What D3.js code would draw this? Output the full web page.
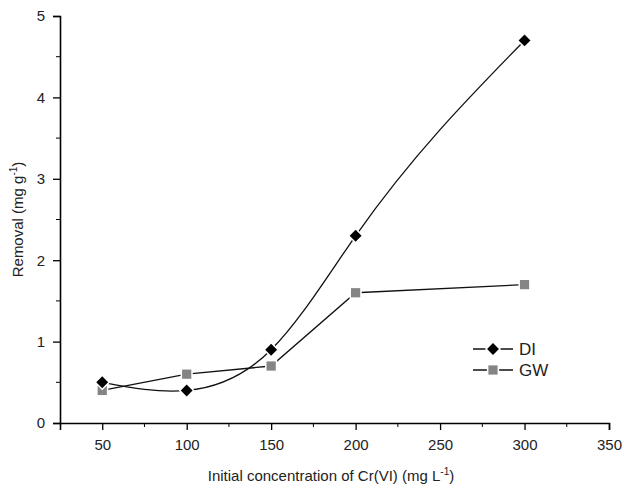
<html>
<head>
  <title>Removal chart</title>
  <script src="https://cdnjs.cloudflare.com/ajax/libs/d3/7.8.5/d3.min.js"></script>
  <style>
    body { margin: 0; background: #fff; }
    text { font-family: "Liberation Sans", Arial, sans-serif; }
  </style>
</head>
<body>
<script type="text/javascript">
  // data
  var conc = [50, 100, 150, 200, 300];
  var diValues = [0.5, 0.4, 0.9, 2.3, 4.7];
  var gwValues = [0.4, 0.6, 0.7, 1.6, 1.7];
  var xTicks = [50, 100, 150, 200, 250, 300, 350];
  var yTicks = [0, 1, 2, 3, 4, 5];

  var width = 624, height = 488;
  var plotLeft = 60, plotRight = 609, plotTop = 16, plotBottom = 423;

  var svg = d3.select("body").append("svg")
    .attr("width", width)
    .attr("height", height);

  var x = d3.scaleLinear().domain([25, 350]).range([plotLeft, plotRight]);
  var y = d3.scaleLinear().domain([0, 5]).range([plotBottom, plotTop]);

  // natural cubic spline y(x), drawn as bezier pieces (like Origin's spline)
  function splineCurve(context) {
    var pts;
    return {
      lineStart: function () { pts = []; },
      point: function (px, py) { pts.push([+px, +py]); },
      areaStart: function () {}, areaEnd: function () {},
      lineEnd: function () {
        var n = pts.length - 1, h = [], M = [], i;
        if (n < 1) return;
        for (i = 0; i < n; i++) h[i] = pts[i + 1][0] - pts[i][0];
        // tridiagonal solve for second derivatives, M[0] = M[n] = 0
        var a = [], b = [], c = [], r = [];
        for (i = 1; i < n; i++) {
          a[i] = h[i - 1]; b[i] = 2 * (h[i - 1] + h[i]); c[i] = h[i];
          r[i] = 6 * ((pts[i + 1][1] - pts[i][1]) / h[i] - (pts[i][1] - pts[i - 1][1]) / h[i - 1]);
        }
        for (i = 2; i < n; i++) {
          var w = a[i] / b[i - 1];
          b[i] -= w * c[i - 1];
          r[i] -= w * r[i - 1];
        }
        M[0] = 0; M[n] = 0;
        for (i = n - 1; i >= 1; i--) M[i] = (r[i] - (i < n - 1 ? c[i] * M[i + 1] : 0)) / b[i];
        context.moveTo(pts[0][0], pts[0][1]);
        for (i = 0; i < n; i++) {
          var s = (pts[i + 1][1] - pts[i][1]) / h[i];
          var m0 = s - h[i] * (2 * M[i] + M[i + 1]) / 6;
          var m1 = s + h[i] * (M[i] + 2 * M[i + 1]) / 6;
          context.bezierCurveTo(
            pts[i][0] + h[i] / 3, pts[i][1] + m0 * h[i] / 3,
            pts[i + 1][0] - h[i] / 3, pts[i + 1][1] - m1 * h[i] / 3,
            pts[i + 1][0], pts[i + 1][1]);
        }
      }
    };
  }

  // axes with minor ticks
  var xMinor = d3.range(75, 350, 50);
  var yMinor = d3.range(0.5, 5, 1);

  var gx = svg.append("g").attr("transform", "translate(0," + plotBottom + ")");
  gx.call(d3.axisBottom(x).tickValues(xTicks).tickSizeOuter(0).tickSize(7).tickPadding(9));
  gx.selectAll(".minor").data(xMinor).enter().append("line")
    .attr("x1", function (d) { return x(d); })
    .attr("x2", function (d) { return x(d); })
    .attr("y1", 0).attr("y2", 4)
    .attr("stroke", "#000");

  var gy = svg.append("g").attr("transform", "translate(" + plotLeft + ",0)");
  gy.call(d3.axisLeft(y).tickValues(yTicks).tickFormat(d3.format("d"))
    .tickSizeOuter(0).tickSize(7).tickPadding(8));
  gy.selectAll(".minor").data(yMinor).enter().append("line")
    .attr("y1", function (d) { return y(d); })
    .attr("y2", function (d) { return y(d); })
    .attr("x1", 0).attr("x2", -4)
    .attr("stroke", "#000");

  svg.selectAll(".domain").attr("stroke-width", 1.6);
  svg.selectAll(".tick line").attr("stroke-width", 1.3);
  svg.selectAll(".tick text").attr("font-size", 15).attr("fill", "#222")
    .attr("font-family", "'Liberation Sans', Arial, sans-serif");

  // axis titles
  var xt = svg.append("text")
    .attr("x", 331)
    .attr("y", 481)
    .attr("text-anchor", "middle")
    .attr("font-size", 15)
    .attr("fill", "#222");
  xt.append("tspan").text("Initial concentration of Cr(VI) (mg L");
  xt.append("tspan").attr("font-size", 10).attr("dy", -6).text("-1");
  xt.append("tspan").attr("dy", 6).text(")");

  var yt = svg.append("text")
    .attr("transform", "translate(23," + ((plotTop + plotBottom) / 2) + ") rotate(-90)")
    .attr("text-anchor", "middle")
    .attr("font-size", 15)
    .attr("fill", "#222");
  yt.append("tspan").text("Removal (mg g");
  yt.append("tspan").attr("font-size", 10).attr("dy", -6).text("-1");
  yt.append("tspan").attr("dy", 6).text(")");

  // lines
  var diData = conc.map(function (c, i) { return [c, diValues[i]]; });
  var gwData = conc.map(function (c, i) { return [c, gwValues[i]]; });

  var curveLine = d3.line()
    .x(function (d) { return x(d[0]); })
    .y(function (d) { return y(d[1]); })
    .curve(splineCurve);
  var straightLine = d3.line()
    .x(function (d) { return x(d[0]); })
    .y(function (d) { return y(d[1]); });

  svg.append("path").attr("d", curveLine(diData))
    .attr("fill", "none").attr("stroke", "#111").attr("stroke-width", 1.3);
  svg.append("path").attr("d", straightLine(gwData))
    .attr("fill", "none").attr("stroke", "#111").attr("stroke-width", 1.3);

  // markers (white outline gives the gap around each point)
  var diamond = d3.symbol().type(d3.symbolDiamond2).size(90);
  var square = d3.symbol().type(d3.symbolSquare).size(85);

  svg.selectAll(".gw").data(gwData).enter().append("path")
    .attr("d", square)
    .attr("transform", function (d) { return "translate(" + x(d[0]) + "," + y(d[1]) + ")"; })
    .attr("fill", "#858585").attr("stroke", "#fff").attr("stroke-width", 3).attr("paint-order", "stroke");

  svg.selectAll(".di").data(diData).enter().append("path")
    .attr("d", diamond)
    .attr("transform", function (d) { return "translate(" + x(d[0]) + "," + y(d[1]) + ")"; })
    .attr("fill", "#000").attr("stroke", "#fff").attr("stroke-width", 3).attr("paint-order", "stroke");

  // legend
  var legend = [
    { name: "DI", sym: diamond, fill: "#000", y: 349 },
    { name: "GW", sym: square, fill: "#858585", y: 370 }
  ];
  var lg = svg.append("g");
  legend.forEach(function (l) {
    lg.append("line").attr("x1", 473).attr("x2", 513).attr("y1", l.y).attr("y2", l.y)
      .attr("stroke", "#111").attr("stroke-width", 1.3);
    lg.append("path").attr("d", l.sym)
      .attr("transform", "translate(493," + l.y + ")")
      .attr("fill", l.fill).attr("stroke", "#fff").attr("stroke-width", 3).attr("paint-order", "stroke");
    lg.append("text").attr("x", 519).attr("y", l.y + 6)
      .attr("font-size", 17).attr("fill", "#222").text(l.name);
  });
</script>
</body>
</html>
